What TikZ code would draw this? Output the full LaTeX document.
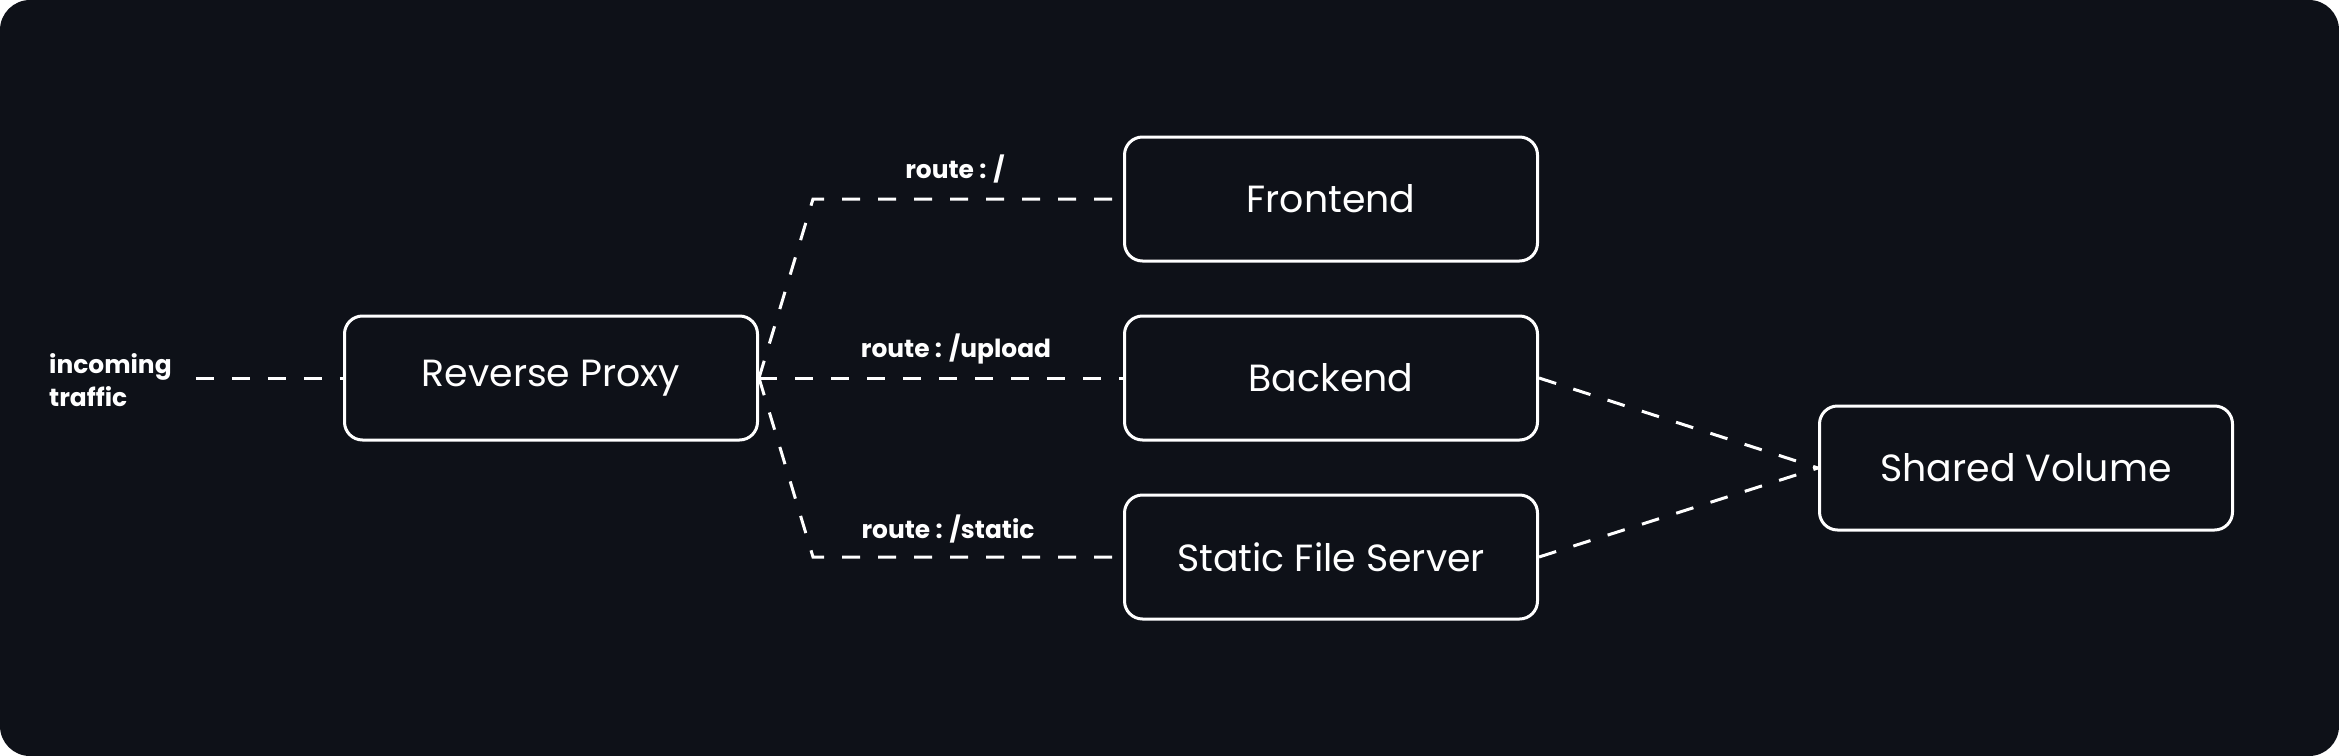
\documentclass[tikz,border=0pt]{standalone}
\usepackage{fontspec}
\setmainfont{Poppins}
\usetikzlibrary{positioning}

\definecolor{bgdark}{RGB}{14,17,24}

\tikzset{
  svcbox/.style={draw=white, line width=3bp, fill=bgdark, rounded corners=18bp,
    minimum width=413bp, minimum height=124bp, text=white,
    font=\fontsize{38}{42}\selectfont},
  routelbl/.style={text=white, inner sep=0pt, font=\bfseries\fontsize{25}{33}\selectfont},
  link/.style={draw=white, line width=3bp, dash pattern=on 18bp off 18bp}
}

\begin{document}
\begin{tikzpicture}[x=1bp,y=-1bp]
  % canvas
  \useasboundingbox (0,0) rectangle (2339,756);
  \fill[white] (0,0) rectangle (2339,756);
  \fill[bgdark, rounded corners=30bp] (0,0) rectangle (2339,756);

  % services
  \node[svcbox] (proxy) at (551,378) {Reverse Proxy};
  \node[svcbox] (front) at (1331,199) {Frontend};
  \node[svcbox] (back) at (1331,378) {Backend};
  \node[svcbox] (static) at (1331,557) {Static File Server};
  \node[svcbox] (shared) at (2026,468) {Shared Volume};

  % incoming traffic
  \node[routelbl, align=left, anchor=west] (traffic) at (49,380) {incoming\\traffic};
  \coordinate (trafficend) at ([xshift=24bp]traffic.east |- proxy.west);
  \draw[link] (trafficend) -- (proxy.west);

  % routes
  \coordinate (kinkup) at ([xshift=54bp]proxy.east |- front.west);
  \coordinate (kinkdown) at ([xshift=54bp]proxy.east |- static.west);
  \draw[link] (proxy.east) -- (kinkup) -- (front.west);
  \draw[link] (proxy.east) -- (back.west);
  \draw[link] (proxy.east) -- (kinkdown) -- (static.west);
  \node[routelbl] (lblroot) at (955,169) {route : /};
  \node[routelbl] (lblupload) at (956,349) {route : /upload};
  \node[routelbl] (lblstatic) at (948,529) {route : /static};

  % volume
  \draw[link] (back.east) -- (shared.west);
  \draw[link] (static.east) -- (shared.west);
\end{tikzpicture}
\end{document}
